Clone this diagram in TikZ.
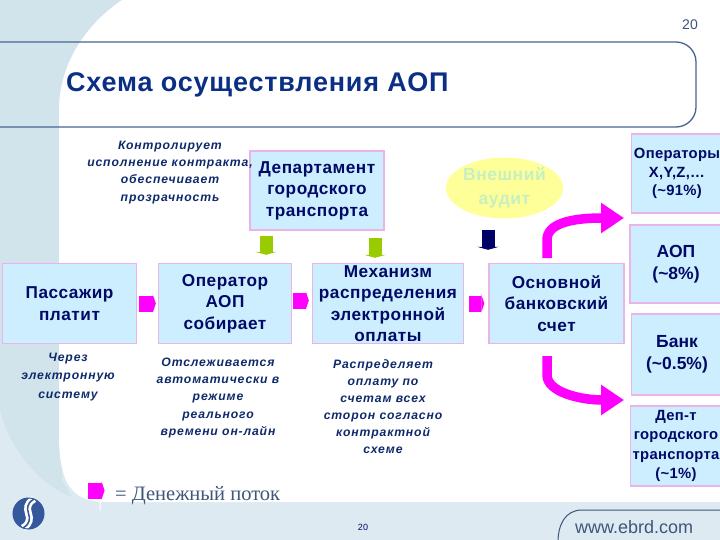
\documentclass[tikz,border=0pt]{standalone}
\usepackage{fontspec}
\setmainfont{Liberation Sans}
\newfontfamily\legendfont{Liberation Serif}
\usetikzlibrary{arrows.meta,shapes.geometric,calc}
\definecolor{bandblue}{HTML}{D1E4EC}
\definecolor{footblue}{HTML}{DDEAF1}
\definecolor{framegray}{HTML}{4A6491}
\definecolor{titleblue}{HTML}{0B2F85}
\definecolor{boxblue}{HTML}{CCEEFF}
\definecolor{boxpink}{HTML}{EAB4EA}
\definecolor{boxtext}{HTML}{000A66}
\definecolor{notetext}{HTML}{0F2A6B}
\definecolor{flowpink}{HTML}{FF00FF}
\definecolor{leafgreen}{HTML}{99CC00}
\definecolor{navyflow}{HTML}{000066}
\definecolor{auditpale}{HTML}{C6F0C0}
\definecolor{audityellow}{HTML}{FFFF99}
\definecolor{urlgray}{HTML}{3F5678}
\definecolor{logoblue}{HTML}{34589B}
\tikzset{
    flowbox/.style={draw=boxpink, line width=1.5pt, fill=boxblue, text=boxtext, align=center, inner sep=0pt, font=\fontsize{17.2}{21.5}\selectfont\bfseries\addfontfeatures{LetterSpace=3}},
    sidebox/.style={flowbox, minimum width=91pt, font=\fontsize{17.5}{22}\selectfont\bfseries},
    narrowbox/.style={flowbox, minimum width=91pt, font=\fontsize{14.8}{19.3}\selectfont\bfseries\addfontfeatures{LetterSpace=2}},
    notetxt/.style={align=center, text=notetext, inner sep=0pt, font=\fontsize{12.2}{17.1}\selectfont\bfseries\itshape\addfontfeatures{LetterSpace=7}},
    moneyflow/.style={-{Triangle[length=3pt,width=18pt]}, flowpink, line width=16pt},
    bendflow/.style={-{Triangle[length=23pt,width=29pt]}, flowpink, line width=9.5pt},
    dropflow/.style={-{Triangle[length=3pt,width=22pt]}, line width=13pt}
}
\begin{document}
\begin{tikzpicture}[x=1pt,y=-1pt]
    \useasboundingbox (0,0) rectangle (720,540);

    % Background band and white page area
    \fill[footblue] (0,0) rectangle (720,540);
    \fill[bandblue] (0,0) -- (130,0) -- (130,120) -- (62,120) -- (62,480) -- (72,497) .. controls (40,485) and (10,450) .. (0,410) -- cycle;
    \fill[white] (122,0) .. controls (85,25) and (59,65) .. (59,110) -- (59,440) .. controls (60,480) and (70,502) .. (105,502) -- (720,502) -- (720,0) -- cycle;

    % Title frame
    \draw[framegray, line width=1.3pt, rounded corners=20pt] (-2,42) -- (696,42) -- (696,127) -- (-2,127);
    \node[anchor=base west, inner sep=0pt, text=titleblue, font=\fontsize{27}{30}\selectfont\bfseries\addfontfeatures{LetterSpace=3}] (titletxt) at (66,92) {Схема осуществления АОП};
    \node[anchor=center, inner sep=0pt, text=urlgray, font=\fontsize{14}{16}\selectfont] (pagenum) at (690,25) {20};

    % Boxes
    \node[flowbox, minimum width=134pt, minimum height=79pt] (dept) at (317,190.5) {Департамент\\городского\\транспорта};
    \node[flowbox, minimum width=134pt, minimum height=80pt] (passenger) at (69.5,303.5) {Пассажир\\платит};
    \node[flowbox, minimum width=133pt, minimum height=80pt] (operator) at (225,303.5) {Оператор\\АОП\\собирает};
    \node[flowbox, minimum width=151pt, minimum height=80pt, inner ysep=-3.5pt] (mechanism) at (388,303.5) {Механизм\\распределения\\электронной\\оплаты};
    \node[flowbox, minimum width=135pt, minimum height=80pt] (account) at (556.5,303.5) {Основной\\банковский\\счет};
    \node[narrowbox, minimum height=79pt, font=\fontsize{14.8}{18.5}\selectfont\bfseries\addfontfeatures{LetterSpace=2}] (opsxyz) at (677,173.5) {Операторы\\X,Y,Z,\dots\\(\textasciitilde91\%)};
    \node[sidebox, minimum width=92pt, minimum height=78pt] (aop) at (676,264) {АОП\\(\textasciitilde8\%)};
    \node[sidebox, minimum height=81pt] (bankbox) at (677,354.5) {Банк\\(\textasciitilde0.5\%)};
    \node[narrowbox, minimum height=80pt] (deptshare) at (676,446) {Деп-т\\городского\\транспорта\\(\textasciitilde1\%)};

    % External audit
    \node[ellipse, fill=audityellow, text=auditpale, align=center, inner sep=0pt, minimum width=117pt, minimum height=61pt, font=\fontsize{17.5}{24}\selectfont\bfseries\addfontfeatures{LetterSpace=3}] (audit) at (504.5,188) {Внешний\\аудит};

    % Notes
    \node[notetxt] (note1) at (170,172.5) {Контролирует\\исполнение контракта,\\обеспечивает\\прозрачность};
    \node[notetxt, font=\fontsize{12.2}{18.7}\selectfont\bfseries\itshape\addfontfeatures{LetterSpace=7}] (note2) at (68,377) {Через\\электронную\\систему};
    \node[notetxt] (note3) at (218,398) {Отслеживается\\автоматически в\\режиме\\реального\\времени он-лайн};
    \node[notetxt] (note4) at (383,406.5) {Распределяет\\оплату по\\счетам всех\\сторон согласно\\контрактной\\схеме};

    % Money flow between boxes
    \draw[moneyflow, shorten <=2pt, shorten >=2pt] (passenger.east) -- (operator.west);
    \draw[moneyflow, shorten <=1pt, shorten >=3pt] ($(operator.east)+(0,-3)$) -- ($(mechanism.west)+(0,-3)$);
    \draw[moneyflow, shorten <=5pt, shorten >=4pt] (mechanism.east) -- (account.west);

    % Flows from the department and the audit
    \draw[dropflow, leafgreen, shorten <=5pt, shorten >=8pt] (dept.south -| 266,0) -- (operator.north -| 266,0);
    \draw[dropflow, leafgreen, shorten <=7pt, shorten >=5pt] (dept.south -| 375,0) -- (mechanism.north -| 375,0);
    \draw[dropflow, navyflow, shorten <=11pt, shorten >=13pt] (audit.south -| 488,0) -- (account.north -| 488,0);

    % Bent flows out of the account
    \coordinate (upbend) at (547,258);
    \coordinate (upend) at (624,218);
    \coordinate (lowbend) at (547,356);
    \coordinate (lowend) at (624,400);
    \draw[bendflow] (upbend) -- (547,240) .. controls (547,224) and (570,218) .. (upend);
    \draw[bendflow] (lowbend) -- (547,375) .. controls (547,392) and (580,400) .. (lowend);

    % Legend
    \draw[white, line width=1pt] (100.5,495) -- (100,511);
    \coordinate (legendstart) at (88,490.5);
    \coordinate (legendend) at (104.5,490.5);
    \draw[moneyflow] (legendstart) -- (legendend);
    \node[anchor=base west, inner sep=0pt, text=urlgray, font=\fontsize{20.5}{22}\selectfont\legendfont] (legendtxt) at (115,500) {= Денежный поток};

    % Footer
    \node[inner sep=0pt, text=boxtext, font=\fontsize{9}{10}\selectfont] (pagefoot) at (363,527) {20};
    \draw[urlgray, line width=1pt] (558,542) .. controls (558,525) and (565,510) .. (582,510) -- (722,510);
    \node[anchor=base west, inner sep=0pt, text=urlgray, font=\fontsize{18}{20}\selectfont] (urltxt) at (575,533) {www.ebrd.com};

    % Logo
    \fill[logoblue] (28.5,513.5) circle (15.5);
    \draw[white, line width=7pt] (34,499) .. controls (18,509) and (39,518) .. (23,528);
    \draw[logoblue, line width=1.5pt] (34,499) .. controls (18,509) and (39,518) .. (23,528);
    \draw[logoblue, line width=1pt] (28.5,513.5) circle (15.5);
\end{tikzpicture}
\end{document}
